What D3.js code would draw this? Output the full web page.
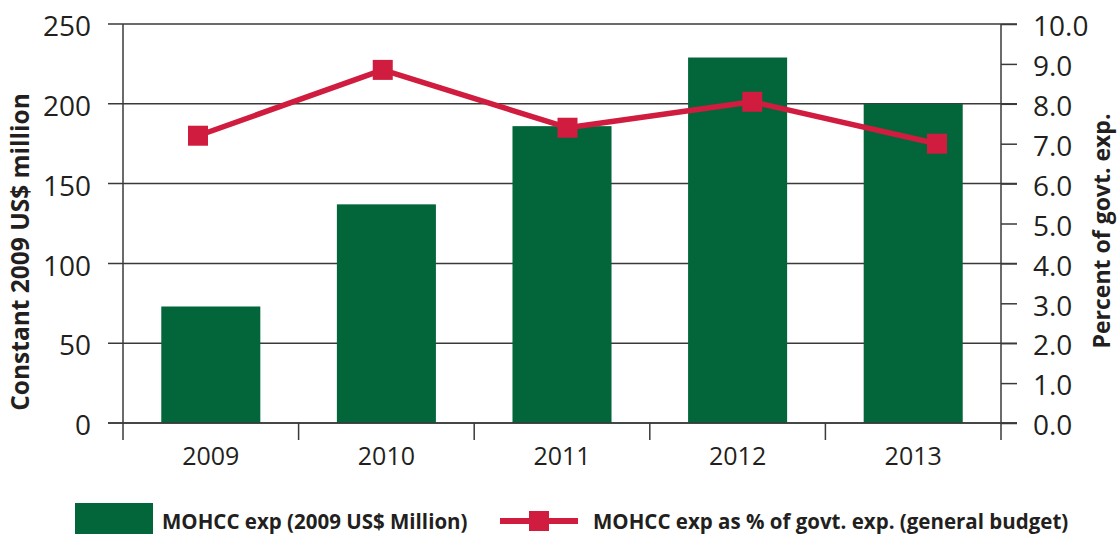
<!DOCTYPE html>
<html>
<head>
<meta charset="utf-8">
<script src="https://cdn.jsdelivr.net/npm/d3@7"></script>
<style>
	html, body { margin: 0; padding: 0; background: #fff; }
	text { font-family: "Open Sans", "Noto Sans", sans-serif; fill: #231f20; }
</style>
</head>
<body>
<div id="container"></div>
<script>
"use strict";

// data
const years = ["2009", "2010", "2011", "2012", "2013"];
const spending = [73, 137, 186, 229, 200]; // constant 2009 US$ million
const shareOfGovt = [7.2, 8.85, 7.4, 8.05, 7.0]; // percent of govt. exp.
const leftTicks = [0, 50, 100, 150, 200, 250];
const rightTicks = [0, 1, 2, 3, 4, 5, 6, 7, 8, 9, 10];

const barName = "MOHCC exp (2009 US$ Million)";
const lineName = "MOHCC exp as % of govt. exp. (general budget)";

const barColor = "#03663a";
const lineColor = "#d01c3e";
const inkColor = "#3a3a3a";

const W = 1117,
	H = 534;
const plot = { left: 123, right: 1001, top: 24, bottom: 423 };

const svg = d3
	.select("#container")
	.append("svg")
	.attr("width", W)
	.attr("height", H);

// scales
const x = d3
	.scaleBand()
	.domain(years)
	.range([plot.left, plot.right])
	.paddingInner(0.436)
	.paddingOuter(0.218);
// the line's points are not centred on the bars in the original
const xLine = d3.scalePoint().domain(years).range([198, 937]);
const yL = d3.scaleLinear().domain([0, 250]).range([plot.bottom, plot.top]);
const yR = d3.scaleLinear().domain([0, 10]).range([plot.bottom, plot.top]);

// grid lines (they also make the left ticks)
const grid = svg.append("g").attr("class", "grid");
grid
	.selectAll("line")
	.data(leftTicks)
	.enter()
	.append("line")
	.attr("x1", plot.left - 15)
	.attr("x2", plot.right + 16)
	.attr("y1", (d) => yL(d))
	.attr("y2", (d) => yL(d))
	.attr("stroke", inkColor)
	.attr("stroke-width", 1.5);

// left axis labels
const axisL = svg
	.append("g")
	.attr("transform", `translate(${plot.left},0)`)
	.call(d3.axisLeft(yL).tickValues(leftTicks).tickSize(15).tickPadding(17));
axisL.select(".domain").remove();
axisL.selectAll("line").remove();
axisL
	.selectAll("text")
	.attr("font-size", 28)
	.attr("font-family", null)
	.attr("dy", "0.42em");

// right axis
const axisR = svg
	.append("g")
	.attr("transform", `translate(${plot.right},0)`)
	.call(
		d3
			.axisRight(yR)
			.tickValues(rightTicks)
			.tickSize(16)
			.tickPadding(16)
			.tickFormat(d3.format(".1f"))
	);
axisR.select(".domain").remove();
axisR.selectAll("line").attr("stroke", inkColor).attr("stroke-width", 1.5);
axisR
	.selectAll("text")
	.attr("font-size", 28)
	.attr("font-family", null)
	.attr("dy", "0.42em");

// bars
svg
	.append("g")
	.selectAll("rect")
	.data(years)
	.enter()
	.append("rect")
	.attr("x", (d) => x(d))
	.attr("width", x.bandwidth())
	.attr("y", (d, i) => yL(spending[i]))
	.attr("height", (d, i) => yL(0) - yL(spending[i]))
	.attr("fill", barColor);

// zero line drawn again over the bars
svg
	.append("line")
	.attr("x1", plot.left - 15)
	.attr("x2", plot.right + 16)
	.attr("y1", yL(0))
	.attr("y2", yL(0))
	.attr("stroke", inkColor)
	.attr("stroke-width", 1.5);

// vertical axis lines
svg
	.append("g")
	.selectAll("line")
	.data([plot.left, plot.right])
	.enter()
	.append("line")
	.attr("x1", (d) => d)
	.attr("x2", (d) => d)
	.attr("y1", plot.top)
	.attr("y2", plot.bottom + 17)
	.attr("stroke", inkColor)
	.attr("stroke-width", 1.5);

// x axis: labels at centres, ticks between bands
const axisX = svg
	.append("g")
	.attr("transform", `translate(0,${plot.bottom})`)
	.call(d3.axisBottom(x).tickSize(0).tickPadding(24));
axisX.select(".domain").remove();
axisX
	.selectAll("text")
	.attr("font-size", 25)
	.attr("font-family", null);
svg
	.append("g")
	.selectAll("line")
	.data(years.slice(1))
	.enter()
	.append("line")
	.attr("x1", (d) => x(d) - (x.step() * x.paddingInner()) / 2)
	.attr("x2", (d) => x(d) - (x.step() * x.paddingInner()) / 2)
	.attr("y1", plot.bottom)
	.attr("y2", plot.bottom + 17)
	.attr("stroke", inkColor)
	.attr("stroke-width", 1.5);

// line series
const line = d3
	.line()
	.x((d, i) => xLine(years[i]))
	.y((d) => yR(d));
svg
	.append("path")
	.datum(shareOfGovt)
	.attr("d", line)
	.attr("fill", "none")
	.attr("stroke", lineColor)
	.attr("stroke-width", 5.5)
	.attr("stroke-linejoin", "round");
const markerSize = 20;
svg
	.append("g")
	.selectAll("rect")
	.data(shareOfGovt)
	.enter()
	.append("rect")
	.attr("x", (d, i) => xLine(years[i]) - markerSize / 2)
	.attr("y", (d) => yR(d) - markerSize / 2)
	.attr("width", markerSize)
	.attr("height", markerSize)
	.attr("fill", lineColor);

// axis titles
svg
	.append("text")
	.attr("transform", "translate(29,252) rotate(-90)")
	.attr("text-anchor", "middle")
	.attr("font-size", 24.5)
	.attr("font-weight", "bold")
	.text("Constant 2009 US$ million");
svg
	.append("text")
	.attr("transform", "translate(1110,231) rotate(-90)")
	.attr("text-anchor", "middle")
	.attr("font-size", 23)
	.attr("font-weight", "bold")
	.text("Percent of govt. exp.");

// legend
const legend = svg.append("g");
legend
	.append("rect")
	.attr("x", 75)
	.attr("y", 503)
	.attr("width", 78)
	.attr("height", 40)
	.attr("fill", barColor);
legend
	.append("text")
	.attr("x", 162)
	.attr("y", 529)
	.attr("font-size", 20.5)
	.attr("font-weight", "bold")
	.text(barName);
legend
	.append("line")
	.attr("x1", 500)
	.attr("x2", 578)
	.attr("y1", 521)
	.attr("y2", 521)
	.attr("stroke", lineColor)
	.attr("stroke-width", 6);
legend
	.append("rect")
	.attr("x", 529)
	.attr("y", 511)
	.attr("width", 20)
	.attr("height", 20)
	.attr("fill", lineColor);
legend
	.append("text")
	.attr("x", 593)
	.attr("y", 529)
	.attr("font-size", 20.5)
	.attr("font-weight", "bold")
	.text(lineName);
</script>
</body>
</html>
